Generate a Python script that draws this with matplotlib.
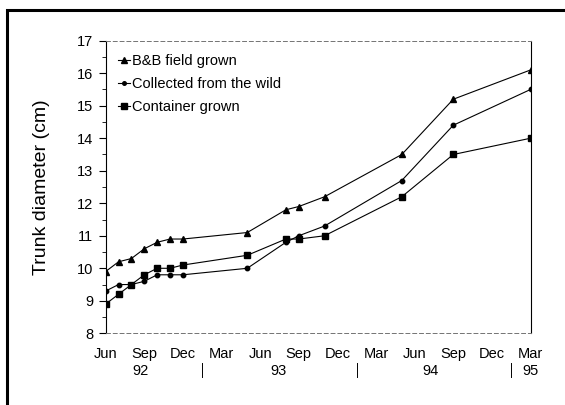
import matplotlib
matplotlib.use("Agg")
import matplotlib.pyplot as plt
from matplotlib.patches import Rectangle
from matplotlib.lines import Line2D

plt.rcParams['font.family'] = ['Liberation Sans', 'DejaVu Sans']

# months after June 1992
months = [0, 1, 2, 3, 4, 5, 6, 11, 14, 15, 17, 23, 27, 33]
bb_field = [9.9, 10.2, 10.3, 10.6, 10.8, 10.9, 10.9, 11.1, 11.8, 11.9, 12.2, 13.5, 15.2, 16.1]
wild = [9.3, 9.5, 9.5, 9.6, 9.8, 9.8, 9.8, 10.0, 10.8, 11.0, 11.3, 12.7, 14.4, 15.5]
container = [8.9, 9.2, 9.5, 9.8, 10.0, 10.0, 10.1, 10.4, 10.9, 10.9, 11.0, 12.2, 13.5, 14.0]

tick_months = [0, 3, 6, 9, 12, 15, 18, 21, 24, 27, 30, 33]
tick_labels = ['Jun', 'Sep', 'Dec', 'Mar', 'Jun', 'Sep', 'Dec', 'Mar', 'Jun', 'Sep', 'Dec', 'Mar']
year_labels = ['92', '93', '94', '95']
year_pos = [2.7, 13.4, 25.2, 33.0]
year_breaks = [7.5, 19.5, 31.5]

fig = plt.figure(figsize=(5.65, 4.05), dpi=100)
ax = fig.add_axes([0.187, 0.177, 0.752, 0.7225])

ax.plot(months, bb_field, '-^', color='k', lw=0.8, markersize=5, label='B&B field grown')
ax.plot(months, wild, '-o', color='k', lw=0.8, markersize=3.2, label='Collected from the wild')
ax.plot(months, container, '-s', color='k', lw=0.8, markersize=5, label='Container grown')

ax.set_xlim(0, 33)
ax.set_ylim(8, 17)
ax.set_yticks(range(8, 18))
ax.set_yticks([y + 0.5 for y in range(8, 17)], minor=True)
ax.set_xticks(tick_months)
ax.set_xticklabels(tick_labels)
ax.tick_params(axis='y', which='major', direction='out', length=5, width=0.8, labelsize=10.5, pad=4)
ax.tick_params(axis='y', which='minor', direction='out', length=3, width=0.6)
ax.tick_params(axis='x', which='major', length=0, labelsize=10.5, pad=10)
ax.set_ylabel('Trunk diameter (cm)', fontsize=14)
ax.yaxis.set_label_coords(-0.131, 0.5)

for s in ['top', 'bottom']:
    ax.spines[s].set_color('0.45')
    ax.spines[s].set_linewidth(0.7)
    ax.spines[s].set_linestyle((0, (4, 3)))
for s in ['left', 'right']:
    ax.spines[s].set_linewidth(0.8)

trans = ax.get_xaxis_transform()
for xp, lab in zip(year_pos, year_labels):
    ax.text(xp, -0.106, lab, transform=trans, ha='center', va='top', fontsize=10.5)
for xb in year_breaks:
    ax.add_line(Line2D([xb, xb], [-0.102, -0.150], transform=trans, color='k', lw=0.7, clip_on=False))

leg = ax.legend(loc='upper left', frameon=False, fontsize=10.5, handlelength=0.8,
                handletextpad=0.2, labelspacing=0.62, borderaxespad=0.0, markerscale=0.8,
                bbox_to_anchor=(0.015, 0.975))

fig.patches.append(Rectangle((7 / 565, -0.05), 1.2, 1 - 10 / 405 + 0.05,
                             transform=fig.transFigure, fill=False, edgecolor='k', lw=2.2))

fig.savefig('out.png', dpi=100)
